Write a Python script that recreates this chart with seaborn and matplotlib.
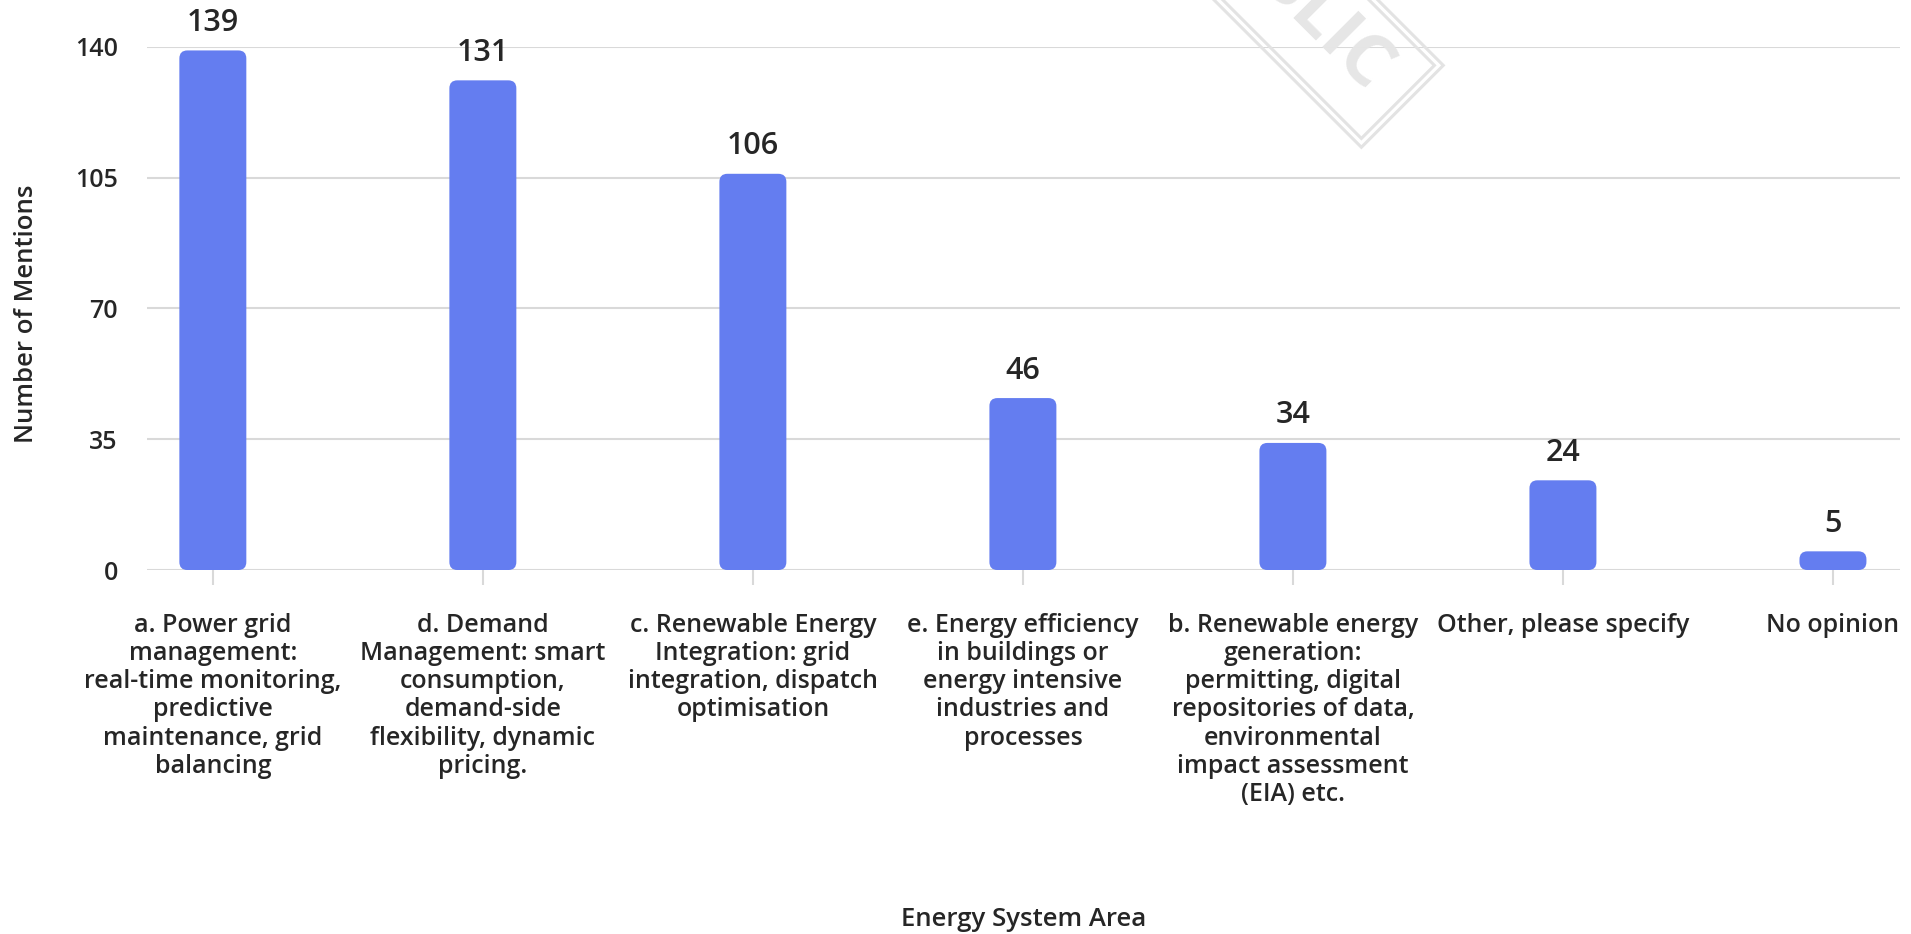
import matplotlib
matplotlib.use("Agg")
import matplotlib.pyplot as plt
from matplotlib.patches import FancyBboxPatch
import seaborn as sns
import pandas as pd

# ---- data ----
categories = [
    "a. Power grid\nmanagement:\nreal-time monitoring,\npredictive\nmaintenance, grid\nbalancing",
    "d. Demand\nManagement: smart\nconsumption,\ndemand-side\nflexibility, dynamic\npricing.",
    "c. Renewable Energy\nIntegration: grid\nintegration, dispatch\noptimisation",
    "e. Energy efficiency\nin buildings or\nenergy intensive\nindustries and\nprocesses",
    "b. Renewable energy\ngeneration:\npermitting, digital\nrepositories of data,\nenvironmental\nimpact assessment\n(EIA) etc.",
    "Other, please specify",
    "No opinion",
]
mentions = [139, 131, 106, 46, 34, 24, 5]
y_ticks = [0, 35, 70, 105, 140]

x_title = "Energy System Area"
y_title = "Number of Mentions"
watermark = "PUBLIC"

BAR = "#647df0"
TEXT = "#262626"
GRID = "#d9d9d9"
FAM = "Open Sans"

sns.set_theme(style="white")
plt.rcParams["font.family"] = FAM
plt.rcParams["font.weight"] = "semibold"

df = pd.DataFrame({"cat": categories, "val": mentions})

fig = plt.figure(figsize=(19.11, 9.34), dpi=100)
ax = fig.add_axes([0.0769, 0.3897, 0.9173, 0.5603])

sns.barplot(data=df, x="cat", y="val", color=BAR, width=0.248, ax=ax,
            saturation=1, zorder=3)

ax.set_xlim(-0.244, 6.248)
ax.set_ylim(0, 140)
ax.set_yticks(y_ticks)

# replace rectangles with rounded bars
fig.canvas.draw()
px_x = ax.transData.transform((1, 0))[0] - ax.transData.transform((0, 0))[0]
px_y = ax.transData.transform((0, 1))[1] - ax.transData.transform((0, 0))[1]
r_px = 8
rx = r_px / px_x
aspect = (r_px / px_y) / rx
for p in list(ax.patches):
    x0, y0 = p.get_x(), p.get_y()
    w, h = p.get_width(), p.get_height()
    p.remove()
    rs = min(rx, h / aspect / 2) if h > 0 else rx
    fb = FancyBboxPatch((x0, y0), w, h,
                        boxstyle=f"round,pad=0,rounding_size={rs}",
                        mutation_aspect=aspect, fc=BAR, ec="none", zorder=3)
    ax.add_patch(fb)
    ax.annotate(f"{int(round(h))}", (x0 + w / 2, y0 + h), xytext=(0, 14),
                textcoords="offset points", ha="center", va="baseline",
                family=FAM, fontsize=22, fontweight="semibold", color=TEXT,
                annotation_clip=False)

ax.grid(axis="y", color=GRID, linewidth=1.5, zorder=0)
ax.grid(axis="x", visible=False)
for s in ax.spines.values():
    s.set_visible(False)

ax.tick_params(axis="x", length=10.8, width=1.5, color=GRID, pad=20,
               labelsize=18, labelcolor=TEXT, bottom=True)
ax.tick_params(axis="y", length=0, pad=21, labelsize=18, labelcolor=TEXT)
for lab in ax.get_xticklabels():
    lab.set_family(FAM)
    lab.set_fontweight("semibold")
    lab.set_linespacing(1.17)
    lab.set_ha("center")
for lab in ax.get_yticklabels():
    lab.set_family(FAM)
    lab.set_fontweight("semibold")

ax.set_xlabel("")
ax.set_ylabel("")
fig.text(1024 / 1911, 1 - 920 / 934, x_title, ha="center", va="center",
         family=FAM, fontsize=18.5, fontweight="semibold", color=TEXT)
fig.text(27 / 1911, 1 - 314 / 934, y_title, ha="center", va="center",
         rotation=90, family=FAM, fontsize=18.5, fontweight="semibold", color=TEXT)

# watermark: double frame + letters
bx, by = 1298 / 1911, 1 - 2 / 934
for pad in (0.33, 0.24):
    fig.text(bx, by, watermark, rotation=-45, rotation_mode="anchor",
             ha="center", va="center", family=FAM, fontsize=50,
             fontweight="bold", color="none", zorder=0,
             bbox=dict(boxstyle=f"square,pad={pad}", fc="none",
                       ec="#e3e3e3", lw=2.2))
fig.text(1287 / 1911, 1 + 9 / 934, watermark, rotation=-45,
         rotation_mode="anchor", ha="center", va="center", family=FAM,
         fontsize=52, fontweight="bold", color="#e6e6e6", zorder=0)

fig.savefig("out.png", dpi=100)
